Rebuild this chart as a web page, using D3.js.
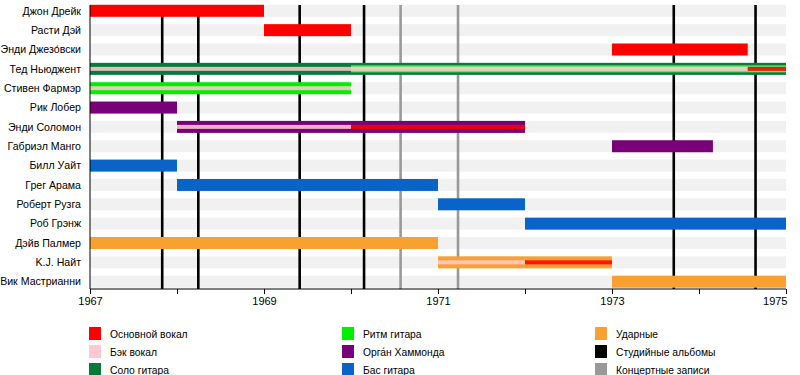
<!DOCTYPE html>
<html>
<head>
<meta charset="utf-8">
<script src="https://cdn.jsdelivr.net/npm/d3@7"></script>
<style>
  body { margin: 0; background: #fff; }
  #chart { width: 800px; height: 375px; }
  text { font-family: "Liberation Sans", Arial, sans-serif; }
</style>
</head>
<body>
<div id="chart"></div>
<script>
var members = ["Джон Дрейк", "Расти Дэй", "Энди Джезо́вски", "Тед Ньюджент", "Стивен Фармэр",
  "Рик Лобер", "Энди Соломон", "Габриэл Манго", "Билл Уайт", "Грег Арама",
  "Роберт Рузга", "Роб Грэнж", "Дэйв Палмер", "K.J. Найт", "Вик Мастрианни"];

var roles = ["Основной вокал", "Бэк вокал", "Соло гитара", "Ритм гитара",
  "Орга́н Хаммонда", "Бас гитара", "Ударные"];
var roleColors = ["#ff0000", "#ffc8d0", "#087a3a", "#00f000", "#780078", "#0a64c8", "#f8a030"];

// [member, role, from, to, layer]  layer 0 = full bar, 1 = middle, 2 = centre line
var spells = [
  ["Джон Дрейк", "Основной вокал", 1967, 1969, 0],
  ["Расти Дэй", "Основной вокал", 1969, 1970, 0],
  ["Энди Джезо́вски", "Основной вокал", 1973, 1974.56, 0],
  ["Тед Ньюджент", "Соло гитара", 1967, 1975, 0],
  ["Тед Ньюджент", "Ритм гитара", 1970, 1975, 1],
  ["Тед Ньюджент", "Бэк вокал", 1967, 1974.56, 2],
  ["Тед Ньюджент", "Основной вокал", 1974.56, 1975, 2],
  ["Стивен Фармэр", "Ритм гитара", 1967, 1970, 0],
  ["Стивен Фармэр", "Бэк вокал", 1967, 1970, 2],
  ["Рик Лобер", "Орга́н Хаммонда", 1967, 1968, 0],
  ["Энди Соломон", "Орга́н Хаммонда", 1968, 1972, 0],
  ["Энди Соломон", "Бэк вокал", 1968, 1970, 2],
  ["Энди Соломон", "Основной вокал", 1970, 1972, 2],
  ["Габриэл Манго", "Орга́н Хаммонда", 1973, 1974.16, 0],
  ["Билл Уайт", "Бас гитара", 1967, 1968, 0],
  ["Грег Арама", "Бас гитара", 1968, 1971, 0],
  ["Роберт Рузга", "Бас гитара", 1971, 1972, 0],
  ["Роб Грэнж", "Бас гитара", 1972, 1975, 0],
  ["Дэйв Палмер", "Ударные", 1967, 1971, 0],
  ["K.J. Найт", "Ударные", 1971, 1973, 0],
  ["K.J. Найт", "Бэк вокал", 1971, 1972, 2],
  ["K.J. Найт", "Основной вокал", 1972, 1973, 2],
  ["Вик Мастрианни", "Ударные", 1973, 1975, 0]
];

var studioAlbums = [1967.83, 1968.245, 1969.41, 1970.15, 1973.71, 1974.65];
var liveAlbums = [1970.57, 1971.23];

var yearTicks = [1967, 1968, 1969, 1970, 1971, 1972, 1973, 1974, 1975];
var yearLabels = [1967, 1969, 1971, 1973, 1975];

var legendItems = [
  ["Основной вокал", "#ff0000"], ["Бэк вокал", "#ffc8d0"], ["Соло гитара", "#087a3a"],
  ["Ритм гитара", "#00f000"], ["Орга́н Хаммонда", "#780078"], ["Бас гитара", "#0a64c8"],
  ["Ударные", "#f8a030"], ["Студийные альбомы", "#000000"], ["Концертные записи", "#999999"]
];

function draw() {
  var container = d3.select("#chart");
  container.selectAll("*").remove();
  var svg = container.append("svg")
    .attr("width", 800)
    .attr("height", 375);

  var scX = d3.scaleLinear().domain([1967, 1975]).range([90, 786]);
  var scY = d3.scalePoint().domain(members).range([10.8, 281.7]);
  var color = d3.scaleOrdinal().domain(roles).range(roleColors);
  var axisY = 289;
  var barH = [12, 7, 4];

  // --- background stripes ---
  svg.append("g").selectAll("rect")
    .data(members)
    .enter()
    .append("rect")
    .attr("x", scX(1967))
    .attr("width", scX(1975) - scX(1967))
    .attr("y", d => scY(d) - 6)
    .attr("height", 12)
    .attr("fill", "#f1f1f1");

  // --- album lines ---
  var drawLines = function(g, data, stroke) {
    g.selectAll("line")
      .data(data)
      .enter()
      .append("line")
      .attr("x1", d => scX(d))
      .attr("x2", d => scX(d))
      .attr("y1", 5)
      .attr("y2", axisY)
      .attr("stroke", stroke)
      .attr("stroke-width", 2.6);
  };
  svg.append("g").call(drawLines, studioAlbums, "#000");
  svg.append("g").call(drawLines, liveAlbums, "#999");

  // --- bars ---
  svg.append("g").selectAll("rect")
    .data(spells)
    .enter()
    .append("rect")
    .attr("x", d => scX(d[2]))
    .attr("width", d => scX(d[3]) - scX(d[2]))
    .attr("y", d => scY(d[0]) - barH[d[4]] / 2)
    .attr("height", d => barH[d[4]])
    .attr("fill", d => d[4] == 1 ? d3.interpolateRgb(color(d[1]), "#fff")(0.4) : color(d[1]))
    .attr("fill-opacity", d => d[4] == 0 ? 1 : 0.88);

  // --- member labels ---
  svg.append("g").selectAll("text")
    .data(members)
    .enter()
    .append("text")
    .attr("x", 81)
    .attr("y", d => scY(d))
    .attr("dy", "0.35em")
    .attr("text-anchor", "end")
    .attr("font-size", 10.6)
    .attr("fill", "#000")
    .text(d => d);

  // --- time axis ---
  var axis = svg.append("g")
    .attr("transform", `translate(0, ${axisY})`)
    .call(d3.axisBottom(scX)
      .tickValues(yearTicks)
      .tickSize(5)
      .tickFormat(d => yearLabels.indexOf(d) >= 0 ? d : ""));
  axis.select(".domain").attr("stroke", "#000").attr("d", `M${scX(1967)},0H${scX(1975)}`);
  axis.selectAll(".tick line").attr("stroke", "#000");
  axis.selectAll(".tick text")
    .attr("font-size", 11)
    .attr("font-family", "Liberation Sans, Arial, sans-serif")
    .attr("fill", "#000")
    .attr("y", 8)
    .attr("text-anchor", d => d == 1975 ? "end" : "middle")
    .attr("x", d => d == 1975 ? 1 : 0);

  svg.append("line")
    .attr("x1", scX(1967)).attr("x2", scX(1967))
    .attr("y1", 5).attr("y2", axisY)
    .attr("stroke", "#000");

  // --- legend ---
  var lg = svg.append("g").selectAll("g")
    .data(legendItems)
    .enter()
    .append("g")
    .attr("transform", (d, i) => `translate(${89 + Math.floor(i / 3) * 253}, ${327 + (i % 3) * 18})`);
  lg.append("rect")
    .attr("width", 12)
    .attr("height", 13)
    .attr("fill", d => d[1]);
  lg.append("text")
    .attr("x", 21)
    .attr("y", 7)
    .attr("dy", "0.35em")
    .attr("font-size", 10.3)
    .attr("fill", "#000")
    .text(d => d[0]);
}

draw();
</script>
</body>
</html>
